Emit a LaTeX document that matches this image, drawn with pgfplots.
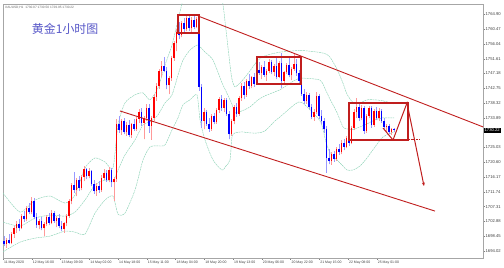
\documentclass[border=0pt]{standalone}
\usepackage{fontspec}
\setmainfont{Liberation Sans}
\newfontfamily\cjk{Noto Sans CJK SC}
\usepackage{pgfplots}
\usepackage{pgfplotstable}
\pgfplotsset{compat=1.18}
\usetikzlibrary{arrows.meta}

\definecolor{bull}{RGB}{255,0,0}
\definecolor{bear}{RGB}{0,0,255}
\definecolor{band}{RGB}{140,210,182}
\definecolor{ann}{RGB}{192,30,30}
\definecolor{ttl}{RGB}{88,88,200}

\pgfplotstableread{
i o h l c
0 1697.0 1698.5 1695.5 1696.2
1 1696.2 1697.8 1695.0 1697.4
2 1697.4 1699.0 1696.0 1696.5
3 1696.5 1699.8 1696.0 1699.2
4 1699.2 1701.5 1698.0 1700.8
5 1700.8 1703.0 1699.5 1702.2
6 1702.2 1703.5 1700.0 1700.9
7 1700.9 1705.0 1700.5 1704.4
8 1704.4 1706.0 1702.8 1703.5
9 1703.5 1707.5 1703.0 1706.8
10 1706.8 1708.5 1705.0 1705.6
11 1705.6 1710.2 1705.0 1709.0
12 1709.0 1709.8 1703.5 1704.2
13 1704.2 1705.5 1701.0 1701.8
14 1701.8 1703.5 1700.5 1703.0
15 1703.0 1704.2 1700.2 1700.8
16 1700.8 1702.6 1698.5 1702.0
17 1702.0 1704.8 1701.5 1704.2
18 1704.2 1705.5 1701.8 1702.4
19 1702.4 1706.2 1702.0 1705.5
20 1705.5 1706.0 1702.5 1703.0
21 1703.0 1704.6 1701.2 1704.0
22 1704.0 1705.2 1700.8 1701.5
23 1701.5 1703.0 1700.0 1700.6
24 1700.6 1702.8 1699.5 1702.3
25 1702.3 1705.0 1701.5 1704.6
26 1704.6 1709.5 1704.0 1709.0
27 1709.0 1714.5 1708.0 1713.8
28 1713.8 1717.6 1711.5 1712.4
29 1712.4 1716.0 1710.5 1715.2
30 1715.2 1716.5 1712.0 1713.0
31 1713.0 1716.8 1712.2 1716.2
32 1716.2 1719.4 1715.0 1718.5
33 1718.5 1719.0 1715.5 1716.4
34 1716.4 1718.8 1715.8 1717.9
35 1717.9 1718.4 1713.5 1714.0
36 1714.0 1715.2 1711.2 1712.0
37 1712.0 1714.5 1710.6 1713.6
38 1713.6 1715.0 1711.5 1712.2
39 1712.2 1716.8 1711.8 1716.0
40 1716.0 1718.6 1715.2 1717.4
41 1717.4 1718.2 1714.8 1715.3
42 1715.3 1719.2 1714.6 1718.4
43 1718.4 1718.9 1713.2 1714.6
44 1714.6 1716.2 1709.0 1715.6
45 1715.6 1733.5 1714.8 1732.0
46 1732.0 1734.4 1729.5 1730.2
47 1730.2 1733.6 1728.8 1733.0
48 1733.0 1734.0 1729.0 1729.6
49 1729.6 1732.8 1728.6 1731.8
50 1731.8 1733.2 1728.2 1728.8
51 1728.8 1732.5 1728.0 1732.0
52 1732.0 1733.5 1730.0 1730.6
53 1730.6 1734.2 1730.0 1733.6
54 1733.6 1736.5 1732.5 1735.8
55 1735.8 1737.0 1731.5 1732.4
56 1732.4 1734.5 1727.5 1733.8
57 1733.8 1738.2 1733.0 1737.0
58 1737.0 1738.0 1729.5 1731.5
59 1731.5 1734.5 1727.4 1733.8
60 1733.8 1741.0 1733.0 1740.2
61 1740.2 1744.2 1739.0 1743.4
62 1743.4 1748.5 1742.6 1747.8
63 1747.8 1751.0 1746.0 1749.5
64 1749.5 1752.2 1747.5 1748.0
65 1748.0 1749.2 1742.5 1743.6
66 1743.6 1746.5 1741.0 1745.8
67 1745.8 1752.5 1745.0 1751.8
68 1751.8 1757.0 1751.0 1756.2
69 1756.2 1760.5 1753.8 1759.5
70 1759.5 1762.5 1757.5 1758.6
71 1758.6 1763.0 1758.0 1762.2
72 1762.2 1763.8 1759.5 1760.4
73 1760.4 1764.6 1759.8 1763.8
74 1763.8 1764.5 1760.0 1760.8
75 1760.8 1764.0 1759.6 1763.2
76 1763.2 1764.8 1760.5 1761.2
77 1761.2 1764.2 1760.8 1763.5
78 1763.5 1764.6 1742.0 1743.2
79 1743.2 1744.0 1731.0 1733.0
80 1733.0 1736.8 1730.5 1735.6
81 1735.6 1736.2 1731.5 1732.2
82 1732.2 1734.0 1729.8 1730.6
83 1730.6 1735.2 1730.0 1734.5
84 1734.5 1735.5 1732.0 1732.8
85 1732.8 1737.0 1732.2 1736.4
86 1736.4 1740.2 1735.5 1739.6
87 1739.6 1740.8 1736.0 1737.0
88 1737.0 1739.8 1735.8 1739.2
89 1739.2 1739.8 1734.5 1735.2
90 1735.2 1736.0 1727.5 1729.0
91 1729.0 1733.5 1728.5 1733.0
92 1733.0 1737.8 1732.0 1737.2
93 1737.2 1738.5 1734.2 1735.0
94 1735.0 1740.5 1734.5 1740.0
95 1740.0 1744.2 1739.0 1743.5
96 1743.5 1744.5 1739.5 1740.8
97 1740.8 1745.5 1740.2 1744.8
98 1744.8 1747.0 1742.5 1743.5
99 1743.5 1746.5 1742.8 1746.0
100 1746.0 1747.2 1743.2 1744.0
101 1744.0 1748.8 1743.8 1748.2
102 1748.2 1750.5 1746.8 1747.2
103 1747.2 1749.6 1745.5 1749.0
104 1749.0 1750.8 1746.2 1746.8
105 1746.8 1748.5 1745.0 1748.0
106 1748.0 1751.5 1747.2 1750.6
107 1750.6 1751.2 1747.0 1747.6
108 1747.6 1750.0 1746.5 1749.4
109 1749.4 1752.2 1745.5 1746.2
110 1746.2 1750.8 1745.8 1750.2
111 1750.2 1753.2 1742.8 1745.0
112 1745.0 1748.0 1744.2 1747.6
113 1747.6 1750.4 1747.0 1749.8
114 1749.8 1752.0 1746.0 1746.6
115 1746.6 1749.0 1745.2 1748.5
116 1748.5 1753.4 1748.0 1750.0
117 1750.0 1751.5 1746.5 1747.2
118 1747.2 1748.2 1744.2 1745.0
119 1745.0 1745.8 1740.5 1741.2
120 1741.2 1742.5 1738.0 1739.0
121 1739.0 1741.8 1738.2 1740.8
122 1740.8 1741.5 1736.5 1737.2
123 1737.2 1738.0 1733.5 1734.2
124 1734.2 1736.5 1733.0 1735.8
125 1735.8 1741.8 1735.0 1740.5
126 1740.5 1741.2 1733.6 1734.5
127 1734.5 1736.2 1732.0 1733.0
128 1733.0 1734.0 1729.5 1730.5
129 1730.5 1731.5 1717.5 1722.0
130 1722.0 1724.5 1720.0 1721.0
131 1721.0 1723.8 1719.8 1723.2
132 1723.2 1724.0 1720.8 1721.6
133 1721.6 1725.2 1721.0 1724.6
134 1724.6 1726.0 1722.8 1723.6
135 1723.6 1727.2 1723.0 1726.5
136 1726.5 1727.6 1724.2 1725.2
137 1725.2 1728.5 1724.8 1727.8
138 1727.8 1729.6 1725.5 1726.4
139 1726.4 1731.5 1726.0 1730.8
140 1730.8 1736.5 1730.2 1735.8
141 1735.8 1740.0 1734.0 1737.2
142 1737.2 1738.2 1733.0 1734.0
143 1734.0 1737.8 1733.2 1737.0
144 1737.0 1737.6 1729.2 1730.0
145 1730.0 1735.2 1729.5 1734.6
146 1734.6 1737.5 1733.8 1736.8
147 1736.8 1737.4 1731.0 1731.8
148 1731.8 1736.6 1731.2 1736.0
149 1736.0 1737.2 1733.2 1733.8
150 1733.8 1736.8 1733.0 1735.9
151 1735.9 1736.5 1732.5 1733.0
152 1733.0 1733.8 1730.5 1731.2
153 1731.2 1732.2 1729.6 1731.6
154 1731.6 1732.0 1729.0 1729.6
155 1729.6 1731.0 1728.8 1730.5
156 1730.5 1730.9 1729.6 1730.2
}\candles

\pgfplotstableread{
i u m l
-0.4 1711.4 1702.7 1693.8
6.4 1705.7 1701.5 1696.7
12.4 1709.3 1703.9 1697.9
18.4 1710.5 1704.8 1698.5
24.4 1708.4 1704.5 1700.0
28.4 1710.8 1705.7 1699.7
32.4 1718.9 1709.3 1699.1
36.4 1721.9 1713.8 1705.4
40.4 1720.7 1715.3 1709.3
43.6 1718.9 1715.0 1710.5
45.6 1731.8 1718.3 1705.1
48.4 1738.4 1722.8 1705.4
52.4 1740.8 1727.3 1712.3
55.6 1741.4 1731.8 1721.3
58.4 1739.3 1732.7 1725.2
61.6 1742.9 1734.8 1725.5
64.4 1749.7 1738.4 1725.8
67.2 1755.7 1740.8 1730.3
69.6 1763.2 1746.7 1733.9
71.6 1769.2 1751.2 1737.8
74.4 1775.2 1754.2 1739.3
77.2 1775.2 1755.7 1740.8
78.4 1774.5 1755.2 1733.3
80.4 1773.0 1753.6 1727.3
83.6 1771.5 1751.2 1721.3
87.2 1769.2 1744.4 1718.3
88.8 1760.2 1741.9 1719.5
90.4 1749.7 1739.3 1721.3
91.2 1745.5 1738.0 1728.2
92.4 1743.2 1735.4 1729.4
95.2 1745.0 1736.0 1729.7
98.4 1748.0 1737.2 1729.4
101.6 1751.2 1739.3 1729.4
104.4 1752.5 1740.5 1730.0
108.4 1753.3 1741.7 1733.0
110.4 1753.6 1742.3 1734.2
116.4 1754.0 1745.2 1738.0
119.2 1754.1 1745.8 1738.5
126.4 1753.5 1745.2 1733.0
128.8 1753.0 1742.0 1726.7
130.4 1752.1 1739.5 1723.5
133.2 1748.5 1735.5 1721.3
135.6 1744.3 1731.2 1719.5
137.2 1741.0 1730.6 1718.3
139.6 1738.5 1730.4 1718.3
142.4 1738.4 1731.2 1719.5
145.2 1739.3 1732.1 1721.9
148.4 1739.3 1733.3 1725.2
151.6 1739.0 1733.9 1728.2
156.0 1738.1 1733.9 1729.7
}\bands

\begin{document}
\begin{tikzpicture}
\begin{axis}[
  scale only axis, width=480bp, height=254bp,
  xmin=-0.4, xmax=191.6, ymin=1691.95, ymax=1768.0,
  axis line style={draw=black!35, line width=0.8bp},
  xtick pos=bottom, ytick pos=right, yticklabel pos=right,
  tick align=outside, major tick length=1.8bp,
  tick style={black!50, line width=0.4bp},
  ytick={1764.90,1760.47,1756.04,1751.61,1747.18,1742.75,1738.32,1733.89,1725.03,1720.60,1716.17,1711.74,1707.31,1702.88,1698.45,1694.02},
  /pgf/number format/assume math mode=true,
  yticklabel style={font=\fontsize{4.2}{5}\selectfont, text=black!75, inner sep=0.6bp,
    /pgf/number format/fixed, /pgf/number format/fixed zerofill,
    /pgf/number format/precision=2, /pgf/number format/1000 sep={}},
  xtick={-0.4,11.1,22.6,34.1,45.6,57.1,68.6,80.1,91.6,103.1,114.6,126.1,137.6,149.1},
  xticklabels={11 May 2020,12 May 16:00,13 May 09:00,14 May 02:00,14 May 18:00,15 May 11:00,18 May 04:00,18 May 20:00,19 May 13:00,20 May 06:00,20 May 22:00,21 May 15:00,22 May 08:00,25 May 01:00},
  xticklabel style={font=\fontsize{3.5}{4}\selectfont, text=black!75, anchor=north west, inner sep=0.6bp, xshift=0.3bp},
  unbounded coords=discard,
  candle/.style={only marks, mark=*, mark size=0pt, mark options={draw=none, fill=none},
    error bars/y dir=plus, error bars/y explicit, error bars/error mark=none},
  bandline/.style={band, line width=0.45bp, smooth, tension=0.4, dash pattern=on 2bp off 0.7bp},
]
% Bollinger bands
\addplot[bandline] table[x=i, y=u] {\bands};
\addplot[bandline] table[x=i, y=m] {\bands};
\addplot[bandline] table[x=i, y=l] {\bands};

% wicks
\addplot[candle, error bars/error bar style={bull!40, line width=0.55bp}]
  table[x=i, y expr={\thisrow{c}>=\thisrow{o} ? \thisrow{l} : nan},
        y error plus expr={\thisrow{h}-\thisrow{l}}] {\candles};
\addplot[candle, error bars/error bar style={bear!40, line width=0.55bp}]
  table[x=i, y expr={\thisrow{c}<\thisrow{o} ? \thisrow{l} : nan},
        y error plus expr={\thisrow{h}-\thisrow{l}}] {\candles};
% bodies
\addplot[candle, error bars/error bar style={bull, line width=1.4bp}]
  table[x=i, y expr={\thisrow{c}>=\thisrow{o} ? \thisrow{o} : nan},
        y error plus expr={\thisrow{c}-\thisrow{o}}] {\candles};
\addplot[candle, error bars/error bar style={bear, line width=1.4bp}]
  table[x=i, y expr={\thisrow{c}<\thisrow{o} ? \thisrow{c} : nan},
        y error plus expr={\thisrow{o}-\thisrow{c}}] {\candles};

% channel lines
\addplot[ann, line width=0.9bp] coordinates {(77.6,1764.41) (191.6,1731.2)};
\addplot[ann, line width=0.9bp] coordinates {(46.4,1735.97) (172.4,1706.0)};

% boxes
\draw[ann, line width=1.5bp] (axis cs:69.6,1759.3) rectangle (axis cs:78,1764.7);
\draw[ann, line width=1.5bp] (axis cs:101.2,1744.05) rectangle (axis cs:118.8,1752.13);
\draw[ann, line width=1.5bp] (axis cs:138,1727.28) rectangle (axis cs:161.6,1738.36);
\draw[ann, line width=1.1bp, dash pattern=on 2bp off 0.8bp] (axis cs:138,1727.3) -- (axis cs:166.4,1727.3);
\draw[ann, line width=1bp, -{Stealth[length=3.5bp,width=3bp]}]
  (axis cs:151.6,1730.88) -- (axis cs:155.6,1727.28) -- (axis cs:161.2,1738.36) -- (axis cs:168,1713.51);

\node[anchor=west, text=ttl, font=\cjk\fontsize{12}{13}\selectfont, inner sep=0pt] at (rel axis cs:0.060,0.900) {黄金1小时图};
\node[anchor=north west, font=\fontsize{3.2}{3.6}\selectfont, text=black!60, inner sep=0.6bp] at (rel axis cs:0.003,0.996) {XAUUSD,H1\ \ 1730.07 1730.50 1729.95 1730.22};
\coordinate (pb) at (axis cs:191.6,1730.2);
\end{axis}
\node[anchor=west, fill=black, text=white, font=\fontsize{4.2}{5}\selectfont, inner sep=0.8bp, xshift=0.6bp] at (pb) {1730.22};
\pgfresetboundingbox
\useasboundingbox (-3bp,-10bp) rectangle (501bp,258bp);
\end{tikzpicture}
\end{document}
